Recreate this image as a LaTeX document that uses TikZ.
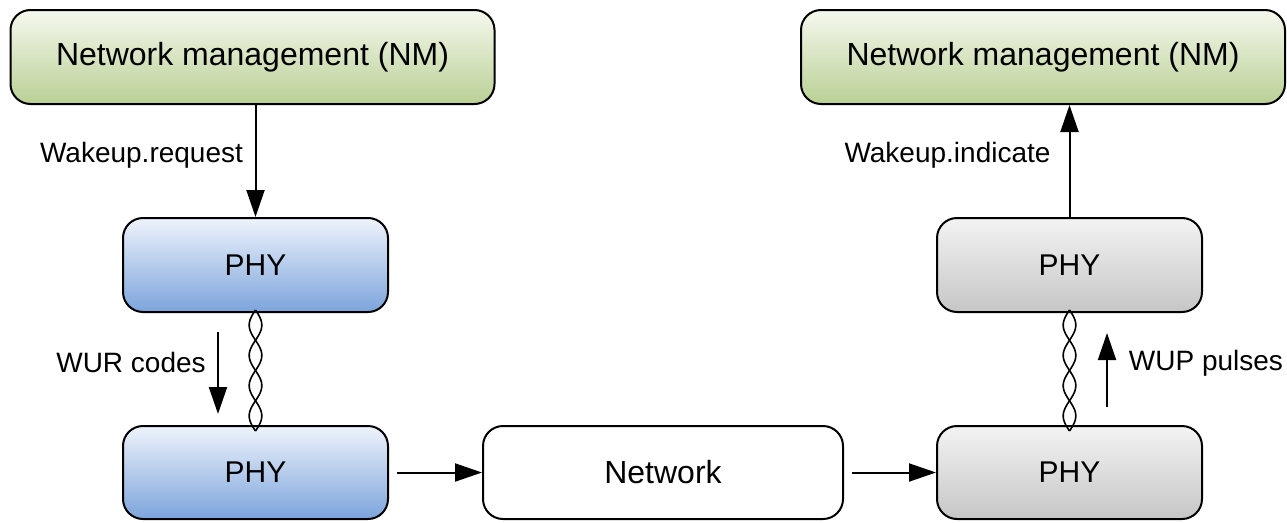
\documentclass[tikz,border=0pt]{standalone}
\usepackage{fontspec}
\setmainfont{Liberation Sans}
\usetikzlibrary{arrows.meta}
\definecolor{gTop}{HTML}{F5F8EE}
\definecolor{gBot}{HTML}{B9D094}
\definecolor{bTop}{HTML}{EEF3FB}
\definecolor{bBot}{HTML}{7CA4DC}
\definecolor{kTop}{HTML}{F3F3F3}
\definecolor{kBot}{HTML}{C6C6C6}
\begin{document}
\begin{tikzpicture}[x=1pt,y=-1pt,
  box/.style={draw=black, line width=2pt, rounded corners=20pt, minimum height=94pt, inner sep=0pt, font=\fontsize{32}{36}\selectfont},
  nmbox/.style={box, minimum width=484pt, top color=gTop, bottom color=gBot},
  phyblue/.style={box, minimum width=265pt, top color=bTop, bottom color=bBot, font=\fontsize{30}{36}\selectfont},
  phygrey/.style={box, minimum width=265pt, top color=kTop, bottom color=kBot, font=\fontsize{30}{36}\selectfont},
  netbox/.style={box, minimum width=360pt, fill=white},
  lbl/.style={font=\fontsize{28}{32}\selectfont, inner sep=0pt},
  arr/.style={line width=2pt, -{Triangle[length=27pt,width=18pt]}},
  twist/.style={line width=1.6pt}]
\useasboundingbox (0,0) rectangle (1287,522);

\node[nmbox] (nmL) at (252.5,57) {Network management (NM)};
\node[nmbox] (nmR) at (1043,57) {Network management (NM)};
\node[phyblue] (phyLT) at (255.5,265) {PHY};
\node[phyblue, minimum height=93pt] (phyLB) at (255.5,472.5) {PHY};
\node[netbox, minimum height=93pt] (net) at (663,472.5) {Network};
\node[phygrey] (phyRT) at (1069.5,265) {PHY};
\node[phygrey, minimum height=93pt] (phyRB) at (1069.5,472.5) {PHY};

% twisted pairs
\foreach \n in {phyLT,phyRT}{
  \draw[twist, shift={(\n.south)}] plot[domain=-3:118, samples=121, variable=\t] ({6.3*sin(5.9504*(\t+3))}, {\t});
  \draw[twist, shift={(\n.south)}] plot[domain=-3:118, samples=121, variable=\t] ({-6.3*sin(5.9504*(\t+3))}, {\t});
}

% arrows
\draw[arr] (phyLT.north |- nmL.south) -- (phyLT.north);
\draw[arr] (phyRT.north) -- (phyRT.north |- nmR.south);
\draw[arr, shorten <=8pt] (phyLB.east) -- (net.west);
\draw[arr, shorten <=8pt] (net.east) -- (phyRB.west);
\coordinate (wurA) at (218,332);
\coordinate (wurB) at (218,414);
\draw[arr] (wurA) -- (wurB);
\coordinate (wupA) at (1107,407);
\coordinate (wupB) at (1107,333);
\draw[arr] (wupA) -- (wupB);

% labels
\node[lbl] (lreq) at (141.5,155) {Wakeup.request};
\node[lbl] (lind) at (947.5,155) {Wakeup.indicate};
\node[lbl] (lwur) at (131,362) {WUR codes};
\node[lbl] (lwup) at (1206,363) {WUP pulses};
\end{tikzpicture}
\end{document}
